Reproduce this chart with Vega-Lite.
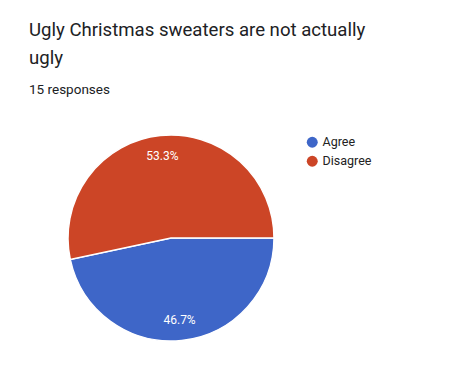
{
  "$schema": "https://vega.github.io/schema/vega-lite/v6.json",
  "autosize": {"type": "none"},
  "width": 342,
  "height": 256,
  "padding": {"left": 0, "top": 110, "right": 133, "bottom": 9},
  "background": "white",
  "config": {"view": {"stroke": null}, "font": "Roboto"},
  "title": {
    "text": ["Ugly Christmas sweaters are not actually", "ugly"],
    "subtitle": "15 responses",
    "anchor": "start",
    "frame": "group",
    "orient": "top",
    "dx": 29,
    "offset": 14,
    "font": "Roboto",
    "fontSize": 18.6,
    "fontWeight": "normal",
    "color": "#202124",
    "lineHeight": 28,
    "subtitleFont": "Roboto",
    "subtitleFontSize": 13.5,
    "subtitleColor": "#202124",
    "subtitlePadding": 15
  },
  "data": {
    "values": [
      {"answer": "Agree", "count": 7, "label": "46.7%"},
      {"answer": "Disagree", "count": 8, "label": "53.3%"}
    ]
  },
  "encoding": {
    "theta": {"field": "count", "type": "quantitative", "stack": true, "scale": {"range": [1.5708, 7.8540]}},
    "color": {
      "field": "answer",
      "type": "nominal",
      "scale": {"domain": ["Agree", "Disagree"], "range": ["#3e66c8", "#cc4526"]},
      "legend": {
        "title": null,
        "orient": "none",
        "legendX": 306,
        "legendY": 26,
        "symbolType": "circle",
        "symbolSize": 120,
        "symbolStrokeWidth": 0,
        "labelFontSize": 12.5,
        "labelColor": "#222222",
        "labelFont": "Roboto",
        "rowPadding": 6,
        "padding": 0
      }
    },
    "order": {"field": "answer", "sort": "ascending"}
  },
  "layer": [
    {"mark": {"type": "arc", "outerRadius": 103, "stroke": "white", "strokeWidth": 1.5}},
    {
      "mark": {"type": "text", "radius": 82, "color": "white", "fontSize": 12, "font": "Roboto"},
      "encoding": {"text": {"field": "label", "type": "nominal"}, "color": {"value": "white"}}
    }
  ]
}
